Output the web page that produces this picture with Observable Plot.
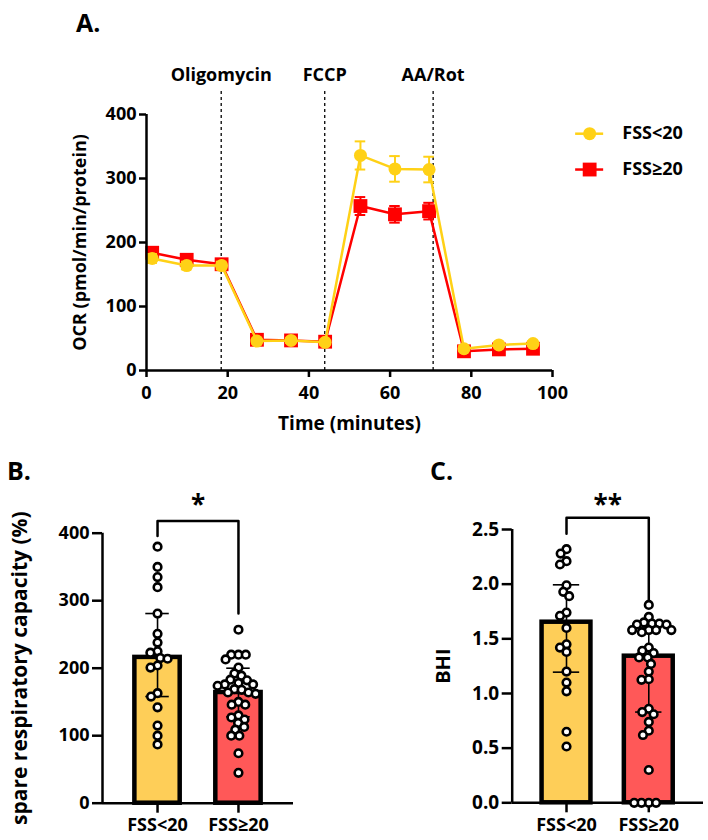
<!DOCTYPE html>
<html><head><meta charset="utf-8">
<script src="https://cdn.jsdelivr.net/npm/d3@7"></script>
<script src="https://cdn.jsdelivr.net/npm/@observablehq/plot@0.6"></script>
<style>
body{margin:0;background:#fff;}
#root{position:relative;width:708px;height:840px;font-family:"Open Sans",sans-serif;color:#000;}
.panel{position:absolute;}
.lab{position:absolute;font-weight:700;font-size:25px;line-height:1;}
</style></head><body><div id="root">
<div class="lab" style="left:76px;top:10px">A.</div>
<div class="lab" style="left:7px;top:458px">B.</div>
<div class="lab" style="left:430px;top:458px">C.</div>
<div id="pa" class="panel" style="left:0;top:0"></div>
<div id="pb" class="panel" style="left:0;top:440px"></div>
<div id="pc" class="panel" style="left:330px;top:440px"></div>
</div>
<script>
// ---------- DATA ----------
// Panel A: Seahorse OCR time course
const times = [1.4, 9.9, 18.5, 27.2, 35.6, 44.0, 52.7, 61.2, 69.6, 78.2, 86.8, 95.2];
const ocrLow = [175, 164, 164, 46, 47, 44, 336, 315, 314, 34, 40, 42];      // FSS<20
const ocrLowErr = [7, 6, 6, 4, 4, 4, 22, 20, 20, 4, 4, 4];
const ocrHigh = [184, 173, 166, 48, 47, 45, 257, 244, 249, 30, 33, 34];     // FSS≥20
const ocrHighErr = [6, 5, 5, 3, 3, 3, 14, 13, 13, 3, 3, 3];
const injectNames = ["Oligomycin", "FCCP", "AA/Rot"];
const injectTimes = [18.4, 43.9, 70.6];
const groups = ["FSS<20", "FSS≥20"];
const xTicksA = [0, 20, 40, 60, 80, 100];
const yTicksA = [0, 100, 200, 300, 400];

// Panel B: spare respiratory capacity (%)
const srcLow = [380, 350, 335, 320, 281, 251, 238, 225, 223, 215, 214, 204, 201, 163, 158, 142, 115, 100, 87];
const srcHigh = [257, 220, 220, 220, 213, 201, 192, 189, 183, 182, 178, 176, 176, 174, 169, 168, 164, 164, 162, 150, 146, 146, 130, 127, 124, 119, 113, 109, 100, 100, 74, 45];
const srcMean = [216, 164];
const srcErrLo = [158, 128];
const srcErrHi = [281, 200];
const yTicksB = [0, 100, 200, 300, 400];
const sigB = "*";

// Panel C: BHI
const bhiLow = [2.32, 2.28, 2.21, 2.18, 1.99, 1.93, 1.89, 1.74, 1.71, 1.60, 1.45, 1.42, 1.38, 1.20, 1.10, 1.02, 0.65, 0.515];
const bhiHigh = [1.81, 1.70, 1.65, 1.64, 1.64, 1.63, 1.63, 1.58, 1.58, 1.58, 1.56, 1.58, 1.42, 1.39, 1.37, 1.33, 1.33, 1.27, 1.20, 1.13, 1.125, 0.86, 0.83, 0.81, 0.74, 0.66, 0.62, 0.30, 0, 0, 0, 0];
const bhiMean = [1.652, 1.341];
const bhiErrLo = [1.195, 0.83];
const bhiErrHi = [1.994, 1.6];
const yTicksC = [0, 0.5, 1.0, 1.5, 2.0, 2.5];
const sigC = "**";

// ---------- STYLE ----------
const YEL = "#FFD116", RED = "#FF0000";
const BAR_FILL = ["#FECE58", "#FF5858"];
const FONT = "font-family:'Open Sans',sans-serif;font-weight:700;font-size:18px;overflow:visible;background:transparent;color:#000";

// ---------- PANEL A ----------
(function () {
  const series = [
    {name: groups[1], values: ocrHigh, err: ocrHighErr, color: RED, symbol: "square", r: 7.8, legY: 314},
    {name: groups[0], values: ocrLow, err: ocrLowErr, color: YEL, symbol: "circle", r: 6.5, legY: 370}
  ];
  const marks = [
    Plot.ruleX(injectTimes, {y1: 0, y2: 440, strokeDasharray: "3,3", strokeWidth: 1.3}),
    Plot.text(injectNames, {x: (d, i) => injectTimes[i], frameAnchor: "top", dy: -39, fontSize: 18, lineAnchor: "middle"})
  ];
  for (const s of series) {
    const rows = times.map((t, i) => ({t, v: s.values[i], e: s.err[i]}));
    marks.push(
      Plot.ruleX(rows, {x: "t", y1: d => d.v - d.e, y2: d => d.v + d.e, stroke: s.color, strokeWidth: 2}),
      Plot.ruleY(rows, {y: d => d.v + d.e, x1: d => d.t - 1.3, x2: d => d.t + 1.3, stroke: s.color, strokeWidth: 2}),
      Plot.ruleY(rows, {y: d => d.v - d.e, x1: d => d.t - 1.3, x2: d => d.t + 1.3, stroke: s.color, strokeWidth: 2}),
      Plot.line(rows, {x: "t", y: "v", stroke: s.color, strokeWidth: 2.5}),
      Plot.dot(rows, {x: "t", y: "v", r: s.r, symbol: s.symbol, fill: s.color, stroke: "none"}),
      // legend entry
      Plot.ruleY([s.legY], {x1: 105.7, x2: 112.6, stroke: s.color, strokeWidth: 2.5}),
      Plot.dot([s.legY], {x: 109.15, y: d => d, r: s.r, symbol: s.symbol, fill: s.color, stroke: "none"}),
      Plot.text([s.name], {x: 117.2, y: s.legY, textAnchor: "start", lineAnchor: "middle", fontSize: 18})
    );
  }
  marks.push(
    Plot.ruleX([0], {y1: 0, y2: 400, strokeWidth: 2.5}),
    Plot.ruleY([0], {strokeWidth: 2.5}),
    Plot.axisY({ticks: yTicksA, tickSize: 7, tickPadding: 3, strokeWidth: 2.5, label: null, fontSize: 18}),
    Plot.axisX({ticks: xTicksA, tickSize: 7, tickPadding: 9, strokeWidth: 2.5, label: null, fontSize: 18}),
    Plot.text(["Time (minutes)"], {frameAnchor: "bottom", dy: 53, lineAnchor: "middle", fontSize: 19}),
    Plot.text(["OCR (pmol/min/protein)"], {frameAnchor: "left", dx: -66, rotate: -90, textAnchor: "middle", lineAnchor: "middle", fontSize: 18})
  );
  const p = Plot.plot({
    width: 708, height: 440, marginLeft: 146, marginRight: 156, marginTop: 114, marginBottom: 70,
    x: {domain: [0, 100]}, y: {domain: [0, 400]},
    style: FONT, marks
  });
  document.getElementById("pa").appendChild(p);
})();

// ---------- beeswarm helper (pixel space) ----------
function swarmOffsets(vals, yScale, D) {
  const order = d3.range(vals.length).sort((a, b) => vals[b] - vals[a]);
  const placed = [], out = new Array(vals.length);
  for (const i of order) {
    const y = yScale.apply(vals[i]);
    const cands = [0];
    for (const p of placed) {
      const dy = y - p.y;
      if (Math.abs(dy) < D) { const h = Math.sqrt(D * D - dy * dy); cands.push(p.x + h, p.x - h); }
    }
    cands.sort((a, b) => Math.abs(a) - Math.abs(b) || a - b);
    let x = 0;
    for (const c of cands) {
      if (placed.every(p => (c - p.x) ** 2 + (y - p.y) ** 2 >= D * D - 1e-6)) { x = c; break; }
    }
    placed.push({x, y}); out[i] = x;
  }
  return out;
}

function barPanel(cfg) {
  const {el, width, height, mL, mR, mT, mB, xDom, yDom, yTicks, tickFmt, tickFont, vals, means, lo, hi, halfW, capW, bracket, sig, sigY, ylabel, ylabelDx, ylabelSize} = cfg;
  const xs = Plot.scale({x: {domain: xDom, range: [mL, width - mR]}});
  const ys = Plot.scale({y: {domain: yDom, range: [height - mB, mT]}});
  const k = xs.apply(1) - xs.apply(0);
  const dots = vals.flatMap((arr, gi) => {
    const off = swarmOffsets(arr, ys, 7.3);
    return arr.map((v, j) => ({x: gi + off[j] / k, y: v}));
  });
  const bars = means.map((m, i) => ({i, m, lo: lo[i], hi: hi[i]}));
  const br = [{x: 0, y: bracket[1]}, {x: 0, y: bracket[0]}, {x: 1, y: bracket[0]}, {x: 1, y: bracket[2]}];
  const p = Plot.plot({
    width, height, marginLeft: mL, marginRight: mR, marginTop: mT, marginBottom: mB,
    x: {domain: xDom}, y: {domain: yDom},
    style: FONT,
    marks: [
      Plot.rect(bars, {x1: d => d.i - halfW, x2: d => d.i + halfW, y1: 0, y2: "m", fill: d => BAR_FILL[d.i], stroke: "black", strokeWidth: 4.5}),
      Plot.ruleX(bars, {x: "i", y1: "lo", y2: "hi", strokeWidth: 1.6}),
      Plot.ruleY(bars, {y: "lo", x1: d => d.i - capW, x2: d => d.i + capW, strokeWidth: 1.6}),
      Plot.ruleY(bars, {y: "hi", x1: d => d.i - capW, x2: d => d.i + capW, strokeWidth: 1.6}),
      Plot.line(br, {x: "x", y: "y", strokeWidth: 2.5}),
      Plot.text([sig], {x: 0.5, y: sigY, fontSize: 26, lineAnchor: "middle"}),
      Plot.ruleX([xDom[0]], {y1: yDom[0], y2: yDom[1], strokeWidth: 2.5}),
      Plot.ruleY([0], {strokeWidth: 2.5}),
      Plot.axisY({ticks: yTicks, tickFormat: tickFmt, tickSize: 10, tickPadding: 3, strokeWidth: 2.5, label: null, fontSize: tickFont}),
      Plot.axisX({ticks: [0, 1], tickFormat: i => groups[i], tickSize: 10, tickPadding: 5, strokeWidth: 2.5, label: null, fontSize: 18}),
      Plot.dot(dots, {x: "x", y: "y", r: 3.8, fill: "white", stroke: "black", strokeWidth: 2.6}),
      Plot.text([ylabel], {frameAnchor: "left", dx: ylabelDx, rotate: -90, textAnchor: "middle", lineAnchor: "middle", fontSize: ylabelSize})
    ]
  });
  document.getElementById(el).appendChild(p);
}

// ---------- PANEL B ----------
barPanel({
  el: "pb", width: 330, height: 400, mL: 102, mR: 37, mT: 92.7, mB: 37.3,
  xDom: [-0.68, 1.68], yDom: [0, 400], yTicks: yTicksB, tickFmt: d3.format("d"), tickFont: 18,
  vals: [srcLow, srcHigh], means: srcMean, lo: srcErrLo, hi: srcErrHi,
  halfW: 0.28, capW: 0.145, bracket: [418, 396, 281], sig: sigB, sigY: 441,
  ylabel: "spare respiratory capacity (%)", ylabelDx: -82, ylabelSize: 21
});

// ---------- PANEL C ----------
barPanel({
  el: "pc", width: 378, height: 400, mL: 181.7, mR: 5, mT: 89, mB: 37.7,
  xDom: [-0.66, 1.665], yDom: [0, 2.5], yTicks: yTicksC, tickFmt: d3.format(".1f"), tickFont: 19,
  vals: [bhiLow, bhiHigh], means: bhiMean, lo: bhiErrLo, hi: bhiErrHi,
  halfW: 0.297, capW: 0.16, bracket: [2.607, 2.461, 1.835], sig: sigC, sigY: 2.72,
  ylabel: "BHI", ylabelDx: -68.7, ylabelSize: 20
});
</script>
</body></html>
